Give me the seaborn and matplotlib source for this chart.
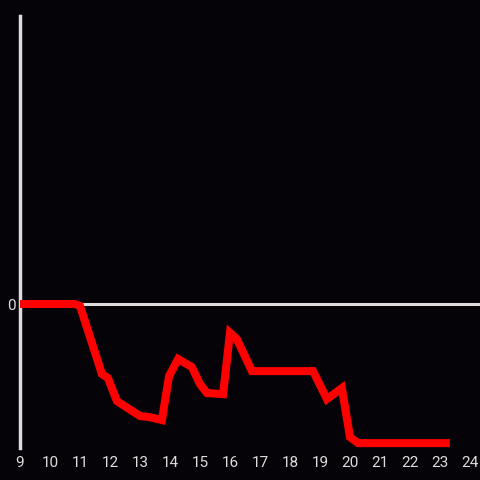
import matplotlib
matplotlib.use("Agg")
import matplotlib.pyplot as plt
import seaborn as sns
import pandas as pd

# data (arbitrary y units, 0 = baseline)
x_vals = [9.0, 10.83, 11.0, 11.73, 11.93, 12.23, 13.0, 13.33, 13.73, 13.97,
          14.27, 14.73, 15.0, 15.23, 15.77, 16.0, 16.23, 16.73, 18.77, 19.23,
          19.73, 20.0, 20.27, 23.33]
y_vals = [0.0, 0.0, -0.07, -2.43, -2.57, -3.37, -3.89, -3.93, -4.03, -2.5,
          -1.91, -2.19, -2.78, -3.09, -3.13, -1.0, -1.22, -2.33, -2.33, -3.3,
          -2.92, -4.62, -4.83, -4.83]
x_ticks = list(range(9, 25))

df = pd.DataFrame({"x": x_vals, "y": y_vals})

BG = "#050308"
FG = "#dddddd"

sns.set_theme(style="dark")
plt.rcParams["font.family"] = ["Roboto", "DejaVu Sans"]

fig = plt.figure(figsize=(4.8, 4.8), dpi=100, facecolor=BG)
ax = fig.add_axes([20 / 480, 32 / 480, 460 / 480, 432 / 480])
ax.set_facecolor(BG)

sns.lineplot(data=df, x="x", y="y", color="#ff0000", linewidth=5.8, ax=ax,
             solid_joinstyle="miter", solid_capstyle="butt", zorder=3)
ax.axhline(0, color=FG, linewidth=2.2, zorder=2)

ax.set_xlim(9, 9 + 460 / 30)
ax.set_ylim(-5, 10)
ax.set_xticks(x_ticks)
ax.set_xticklabels([str(t) for t in x_ticks])
ax.set_yticks([0])
ax.set_yticklabels(["0"])
ax.tick_params(colors=FG, labelsize=11, length=0, pad=6)
ax.tick_params(axis="y", pad=3)
ax.set_xlabel("")
ax.set_ylabel("")
ax.grid(False)

for side in ["top", "right", "bottom"]:
    ax.spines[side].set_visible(False)
ax.spines["left"].set_color(FG)
ax.spines["left"].set_linewidth(2.5)

plt.savefig("out.png", dpi=100, facecolor=BG)
